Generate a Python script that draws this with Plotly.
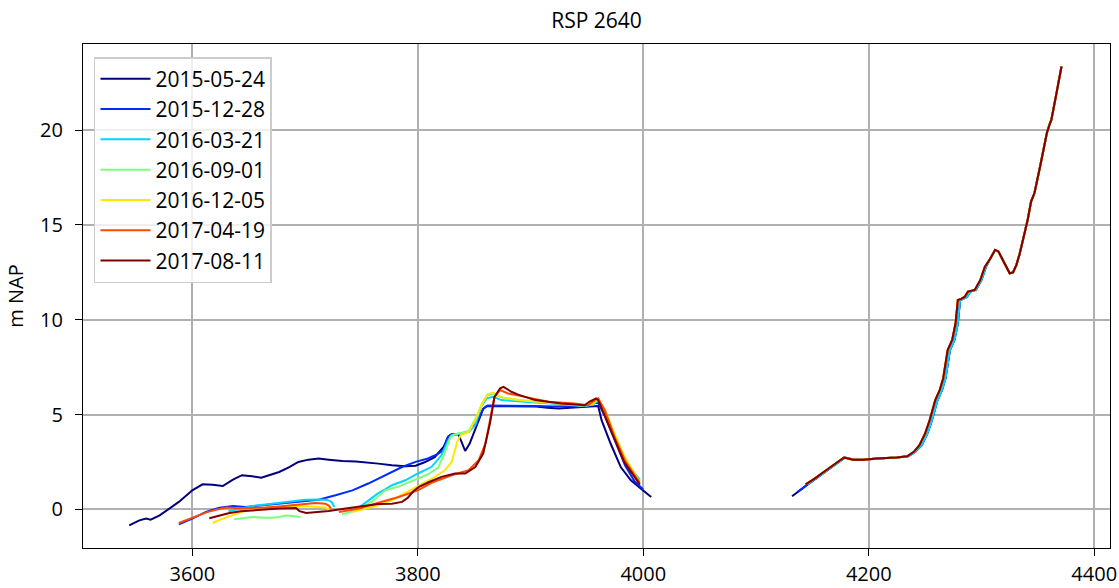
import plotly.graph_objects as go

# ---------------- data ----------------
DATES = ["2015-05-24", "2015-12-28", "2016-03-21", "2016-09-01",
         "2016-12-05", "2017-04-19", "2017-08-11"]
COLORS = ["#000080", "#002aff", "#00d4ff", "#7bff7b",
          "#ffe600", "#ff4800", "#800000"]

# left part (3540-4010), None = gap in survey
NAVY_X = [3544, 3553, 3559, 3563, 3571, 3580, 3588, 3600, 3609, 3618, 3627, 3636, 3644, 3653,
          3661, 3668, 3677, 3686, 3694, 3703, 3712, 3721, 3733, 3745, 3756, 3765, 3777, 3789,
          3798, 3806, 3815, 3823, 3827, 3830, 3836, 3839, 3842, 3846, 3851, 3858, 3861, 3875,
          3890, 3905, 3915, 3925, 3935, 3945, 3955, 3960, 3963, 3971, 3980, 3989, 3998, 4007]
NAVY_Y = [-0.85, -0.58, -0.49, -0.55, -0.32, 0.04, 0.39, 1.0, 1.32, 1.30, 1.23, 1.57, 1.80, 1.74,
          1.67, 1.80, 1.97, 2.23, 2.50, 2.62, 2.68, 2.62, 2.55, 2.52, 2.48, 2.41, 2.32, 2.27,
          2.30, 2.48, 2.75, 3.3, 3.85, 3.96, 3.96, 3.56, 3.08, 3.47, 4.26, 5.3, 5.45, 5.45,
          5.44, 5.42, 5.35, 5.32, 5.35, 5.38, 5.4, 5.45, 4.70, 3.47, 2.23, 1.53, 1.09, 0.65]

BLUE_X = [3588, 3600, 3612, 3624, 3636, 3647, 3660, 3675, 3690, 3700, 3712, 3727, 3742, 3756,
          3771, 3786, 3798, 3809, 3817, 3823, 3826, 3829, 3836, 3845, 3852, 3858, 3862, 3875,
          3890, 3905, 3920, 3935, 3950, 3957, 3960, 3966, 3975, 3984, 3992, 4000]
BLUE_Y = [-0.79, -0.49, -0.14, 0.09, 0.18, 0.12, 0.2, 0.28, 0.38, 0.45, 0.51, 0.74, 1.0, 1.36,
          1.8, 2.23, 2.5, 2.68, 2.9, 3.12, 3.73, 3.94, 3.96, 4.1, 4.6, 5.3, 5.47, 5.47,
          5.46, 5.45, 5.42, 5.42, 5.45, 5.62, 5.6, 4.9, 3.6, 2.3, 1.5, 1.05]

CYAN_X = [3632, 3640, 3647, 3656, 3665, 3675, 3683, 3692, 3700, 3712, 3718, 3722, 3724, 3726, None,
          3748, 3757, 3765, 3771, 3777, 3789, 3800, 3812, 3821, 3827, 3830, 3837, 3845, 3851,
          3856, 3861, 3867, 3874, 3885, 3900, 3915, 3930, 3945, 3955, 3960, 3966, 3974, 3983,
          3992, 3997]
CYAN_Y = [-0.1, 0.0, 0.12, 0.2, 0.26, 0.33, 0.42, 0.45, 0.5, 0.52, 0.51, 0.45, 0.35, 0.12, None,
          0.1, 0.5, 0.85, 1.05, 1.27, 1.53, 1.89, 2.23, 2.85, 3.64, 3.91, 4.0, 4.08, 4.44,
          5.4, 5.85, 5.93, 5.76, 5.7, 5.65, 5.6, 5.52, 5.45, 5.5, 5.75, 5.23, 3.85, 2.62,
          1.9, 1.55]

GREEN_X = [3637, 3645, 3653, 3662, 3670, 3677, 3683, 3689, 3696, None,
           3733, 3745, 3759, 3771, 3783, 3795, 3809, 3818, 3824, 3829, 3833, 3845, 3852, 3858,
           3862, 3868, 3877, 3890, 3905, 3920, 3935, 3950, 3957, 3960, 3966, 3975, 3984, 3992, 3997]
GREEN_Y = [-0.53, -0.45, -0.4, -0.44, -0.45, -0.4, -0.33, -0.35, -0.4, None,
           -0.26, -0.05, 0.39, 1.0, 1.2, 1.5, 1.85, 2.2, 3.0, 3.82, 3.96, 4.12, 4.88, 5.67,
           6.02, 6.08, 5.85, 5.75, 5.68, 5.6, 5.52, 5.47, 5.7, 5.8, 5.2, 3.75, 2.55, 1.85, 1.5]

YELLOW_X = [3618, 3627, 3638, 3647, 3656, 3667, 3677, 3690, 3700, 3710, 3718, 3722, None,
            3742, 3753, 3765, 3777, 3789, 3801, 3812, 3824, 3830, 3835, 3838, 3845, 3851, 3857,
            3862, 3867, 3873, 3885, 3900, 3915, 3930, 3945, 3955, 3960, 3966, 3975, 3984, 3992, 3995]
YELLOW_Y = [-0.72, -0.49, -0.26, -0.08, 0.04, 0.08, 0.12, 0.14, 0.16, 0.13, 0.1, -0.05, None,
            -0.14, 0.04, 0.21, 0.48, 0.85, 1.25, 1.6, 2.06, 2.5, 3.56, 3.91, 4.08, 4.7, 5.58,
            6.08, 6.14, 5.93, 5.8, 5.7, 5.62, 5.55, 5.48, 5.55, 5.8, 5.25, 3.9, 2.7, 1.95, 1.62]

ORANGE_X = [3588, 3597, 3606, 3613, 3621, 3630, 3641, 3653, 3665, 3677, 3689, 3700, 3709, 3718,
            3721, 3723, None,
            3730, 3740, 3748, 3765, 3783, 3800, 3812, 3830, 3845, 3854, 3860, 3864, 3868, 3873,
            3880, 3895, 3916, 3939, 3951, 3957, 3960, 3966, 3975, 3984, 3992, 3997]
ORANGE_Y = [-0.72, -0.5, -0.32, -0.15, -0.02, 0.09, 0.06, 0.06, 0.09, 0.15, 0.21, 0.3, 0.33, 0.3,
            0.2, 0.05, None,
            -0.14, -0.05, 0.04, 0.35, 0.65, 1.0, 1.4, 1.8, 2.06, 2.59, 3.47, 4.7, 5.93, 6.29,
            6.11, 5.93, 5.67, 5.58, 5.49, 5.76, 5.85, 5.2, 3.75, 2.55, 1.8, 1.4]

DKRED_X = [3615, 3624, 3633, 3643, 3653, 3665, 3677, 3692, 3695, 3701, 3711, 3721, 3736, 3754,
           3765, 3777, 3786, 3791, 3796, 3801, 3810, 3821, 3833, 3842, 3851, 3858, 3864, 3868,
           3873, 3876, 3883, 3889, 3904, 3927, 3948, 3952, 3958, 3960, 3966, 3975, 3983, 3992, 3997]
DKRED_Y = [-0.47, -0.33, -0.19, -0.1, -0.05, 0.0, 0.04, 0.07, -0.1, -0.19, -0.14, -0.09, 0.04, 0.21,
           0.28, 0.3, 0.39, 0.6, 0.95, 1.18, 1.44, 1.71, 1.89, 1.89, 2.23, 2.94, 4.53, 5.93,
           6.38, 6.46, 6.2, 6.05, 5.76, 5.58, 5.49, 5.67, 5.85, 5.76, 4.88, 3.64, 2.5, 1.71, 1.3]

# right part (4130-4375): start points per survey + common profile
NAVY_RSTART_X = [4132, 4139]
NAVY_RSTART_Y = [0.69, 1.02]
BLUE_RSTART_X = [4137]
BLUE_RSTART_Y = [0.92]

RIGHT_Y = [1.32, 1.62, 1.97, 2.22, 2.5, 2.73, 2.62, 2.62, 2.68, 2.7, 2.73, 2.8, 3.03, 3.38,
           4.0, 4.7, 5.76, 6.3, 6.9, 8.4, 8.93, 9.81, 11.04, 11.1, 11.2, 11.48, 11.57, 12.1,
           12.8, 13.24, 13.68, 13.6, 13.24, 12.89, 12.45, 12.49, 12.89, 13.5, 14.21, 15.27,
           16.23, 16.68, 18.08, 18.96, 19.85, 20.23, 20.55, 21.78, 23.35]
RIGHT_X_LATE = [4144, 4152, 4160, 4166, 4172, 4178, 4186, 4195, 4207, 4216, 4225, 4234, 4240, 4245,
                4250, 4254, 4259, 4263, 4266, 4270, 4274, 4277, 4279, 4282, 4285, 4288, 4294, 4299,
                4303, 4308, 4312, 4315, 4318, 4321, 4325, 4328, 4331, 4334, 4337, 4341,
                4344, 4347, 4352, 4355, 4358, 4360, 4362, 4366, 4371]
RIGHT_X_EARLY = [4146, 4153, 4161, 4167, 4173, 4179, 4187, 4196, 4207, 4216, 4225, 4235, 4241, 4247,
                 4252, 4256, 4261, 4265, 4268, 4272, 4276, 4279, 4281, 4284, 4287, 4290, 4295, 4300,
                 4304, 4308, 4312, 4315, 4318, 4321, 4325, 4328, 4331, 4334, 4337, 4341,
                 4344, 4347, 4352, 4355, 4358, 4360, 4362, 4366, 4371]

SERIES = [
    (NAVY_X, NAVY_Y, NAVY_RSTART_X, NAVY_RSTART_Y, RIGHT_X_EARLY),
    (BLUE_X, BLUE_Y, BLUE_RSTART_X, BLUE_RSTART_Y, RIGHT_X_EARLY),
    (CYAN_X, CYAN_Y, [], [], RIGHT_X_EARLY),
    (GREEN_X, GREEN_Y, [], [], RIGHT_X_LATE),
    (YELLOW_X, YELLOW_Y, [], [], RIGHT_X_LATE),
    (ORANGE_X, ORANGE_Y, [], [], RIGHT_X_LATE),
    (DKRED_X, DKRED_Y, [], [], RIGHT_X_LATE),
]

X_TICKS = [3600, 3800, 4000, 4200, 4400]
Y_TICKS = [0, 5, 10, 15, 20]

FONT = "Open Sans"

fig = go.Figure()
for (lx, ly, sx, sy, rx), name, col in zip(SERIES, DATES, COLORS):
    xs = list(lx) + [None] + list(sx) + list(rx)
    ys = list(ly) + [None] + list(sy) + list(RIGHT_Y)
    fig.add_trace(go.Scatter(x=xs, y=ys, mode="lines", name=name,
                             line=dict(color=col, width=2), connectgaps=False))

axis_common = dict(showline=True, linecolor="black", linewidth=1.3, mirror=True,
                   ticks="outside", ticklen=7, tickwidth=1.3, tickcolor="black",
                   showgrid=True, gridcolor="#b0b0b0", gridwidth=1.6, zeroline=False,
                   automargin=False,
                   tickfont=dict(family=FONT, size=20, color="black"))

fig.update_layout(
    width=1119, height=588,
    margin=dict(l=83, r=9, t=44, b=40),
    plot_bgcolor="white", paper_bgcolor="white",
    font=dict(family=FONT, size=20, color="black"),
    title=dict(text="RSP 2640", x=0.5, xref="paper", xanchor="center",
               y=1 - 21 / 588, yref="container", yanchor="middle",
               font=dict(family=FONT, size=21, color="black")),
    showlegend=True,
    legend=dict(x=0.0107, y=0.974, xanchor="left", yanchor="top",
                bgcolor="rgba(255,255,255,0.8)", bordercolor="#cccccc", borderwidth=1.5,
                itemwidth=50,
                font=dict(family=FONT, size=21, color="black")),
)
fig.update_xaxes(range=[3503, 4414], tickvals=X_TICKS, ticklabelstandoff=1, **axis_common)
fig.update_yaxes(range=[-2.04, 24.54], tickvals=Y_TICKS, ticklabelstandoff=8,
                 title=dict(text="m NAP", standoff=10, font=dict(family=FONT, size=20)),
                 **axis_common)

fig.write_html("out.html")
